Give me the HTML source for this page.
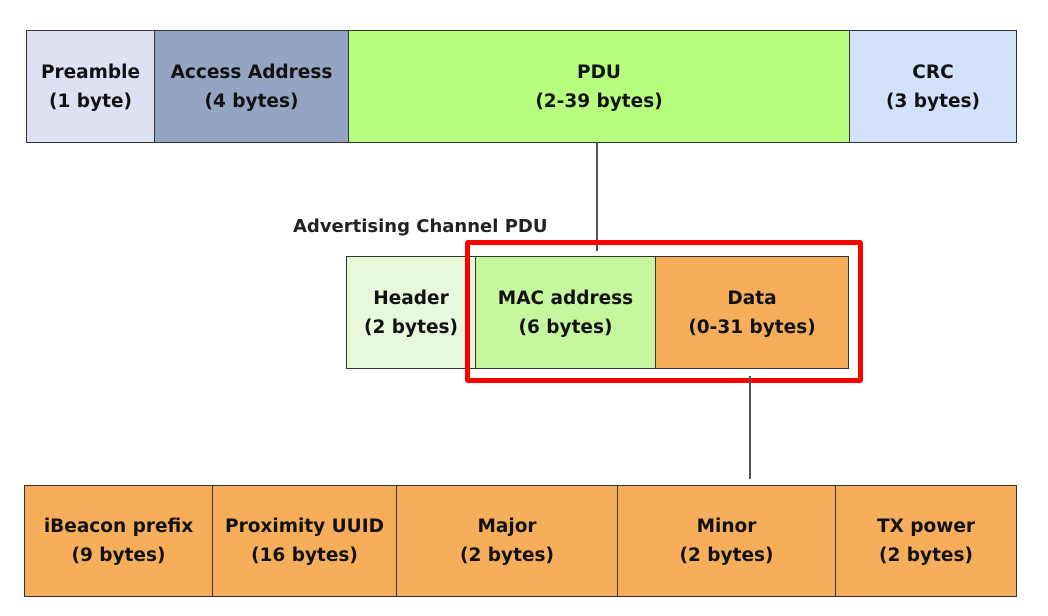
<!DOCTYPE html>
<html><head><meta charset="utf-8"><style>
body{margin:0;width:1048px;height:616px;background:#fff;position:relative;overflow:hidden;font-family:"DejaVu Sans","Liberation Sans",sans-serif;}
.b{position:absolute;box-sizing:border-box;border:1.5px solid #333;display:flex;align-items:center;justify-content:center;text-align:center;font-weight:bold;font-size:18.5px;line-height:29px;color:#111;}
.l{position:absolute;background:#555;width:1.5px;}
</style></head><body>
<div class="b" style="left:26px;top:30px;width:129px;height:113px;background:#dfe0f3">Preamble<br>(1 byte)</div>
<div class="b" style="left:154px;top:30px;width:195px;height:113px;background:#94a5c4">Access Address<br>(4 bytes)</div>
<div class="b" style="left:348px;top:30px;width:502px;height:113px;background:#b7fe7e">PDU<br>(2-39 bytes)</div>
<div class="b" style="left:849px;top:30px;width:168px;height:113px;background:#d4e1fa">CRC<br>(3 bytes)</div>
<div class="l" style="left:596px;top:143px;height:108px"></div>
<div style="position:absolute;left:293px;top:216px;font-weight:bold;font-size:18px;color:#222">Advertising Channel PDU</div>
<div class="b" style="left:346px;top:256px;width:130px;height:113px;background:#e8f8da">Header<br>(2 bytes)</div>
<div class="b" style="left:475px;top:256px;width:181px;height:113px;background:#c6f69d">MAC address<br>(6 bytes)</div>
<div class="b" style="left:655px;top:256px;width:194px;height:113px;background:#f6ae5b">Data<br>(0-31 bytes)</div>
<div style="position:absolute;left:465px;top:240px;width:398px;height:143px;box-sizing:border-box;border:5px solid #f00;border-radius:3px"></div>
<div class="l" style="left:749px;top:376px;height:103px"></div>
<div class="b" style="left:24px;top:485px;width:189px;height:112px;background:#f6ae5b">iBeacon prefix<br>(9 bytes)</div>
<div class="b" style="left:212px;top:485px;width:185px;height:112px;background:#f6ae5b">Proximity UUID<br>(16 bytes)</div>
<div class="b" style="left:396px;top:485px;width:222px;height:112px;background:#f6ae5b">Major<br>(2 bytes)</div>
<div class="b" style="left:617px;top:485px;width:219px;height:112px;background:#f6ae5b">Minor<br>(2 bytes)</div>
<div class="b" style="left:835px;top:485px;width:182px;height:112px;background:#f6ae5b">TX power<br>(2 bytes)</div>
</body></html>
